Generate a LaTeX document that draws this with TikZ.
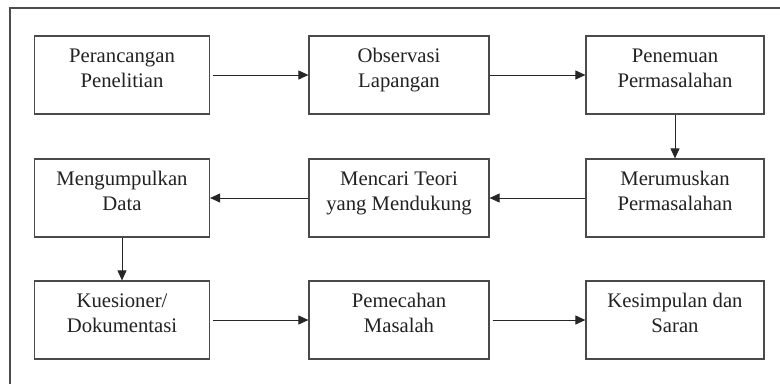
\documentclass[tikz,border=0pt]{standalone}
\usepackage{fontspec}
\setmainfont{Liberation Serif}
\usetikzlibrary{arrows.meta}
\definecolor{boxline}{HTML}{4A4A4A}
\definecolor{txt}{HTML}{222222}
\newcommand{\bxtext}[2]{\parbox[t][78pt][t]{#1}{\centering\fontsize{20.7pt}{25pt}\selectfont\rule{0pt}{26pt}#2}}
\tikzset{
  stepbox/.style={draw=boxline, line width=1.2pt, inner sep=0pt, text=txt, fill=white},
  flow/.style={draw=black!85, line width=0.9pt, -{Triangle[length=10pt,width=9pt]}},
  frame/.style={draw=black!70, line width=1.6pt}
}
\begin{document}
\begin{tikzpicture}[x=1pt,y=-1pt]
\useasboundingbox (0,0) rectangle (780,384);
\draw[frame] (780,8) -- (10,8) -- (10,384);
% row 1
\node[stepbox] (a1) at (122,75) {\bxtext{175pt}{Perancangan\\Penelitian}};
\node[stepbox] (a2) at (399,75) {\bxtext{180pt}{Observasi\\Lapangan}};
\node[stepbox] (a3) at (675,75) {\bxtext{178pt}{Penemuan\\Permasalahan}};
% row 2
\node[stepbox] (b1) at (122,198) {\bxtext{175pt}{Mengumpulkan\\Data}};
\node[stepbox] (b2) at (399,198) {\bxtext{180pt}{Mencari Teori\\yang Mendukung}};
\node[stepbox] (b3) at (675,198) {\bxtext{178pt}{Merumuskan\\Permasalahan}};
% row 3
\node[stepbox] (c1) at (122,320) {\bxtext{175pt}{Kuesioner/\\Dokumentasi}};
\node[stepbox] (c2) at (399,320) {\bxtext{180pt}{Pemecahan\\Masalah}};
\node[stepbox] (c3) at (675,320) {\bxtext{178pt}{Kesimpulan dan\\Saran}};
% connectors
\draw[flow, shorten <=3pt] (a1.east) -- (a2.west);
\draw[flow] (a2.east) -- (a3.west);
\draw[flow] (a3.south) -- (b3.north);
\draw[flow] (b3.west) -- (b2.east);
\draw[flow] (b2.west) -- (b1.east);
\draw[flow] (b1.south) -- (c1.north);
\draw[flow, shorten <=3pt] (c1.east) -- (c2.west);
\draw[flow, shorten <=3pt] (c2.east) -- (c3.west);
\end{tikzpicture}
\end{document}
